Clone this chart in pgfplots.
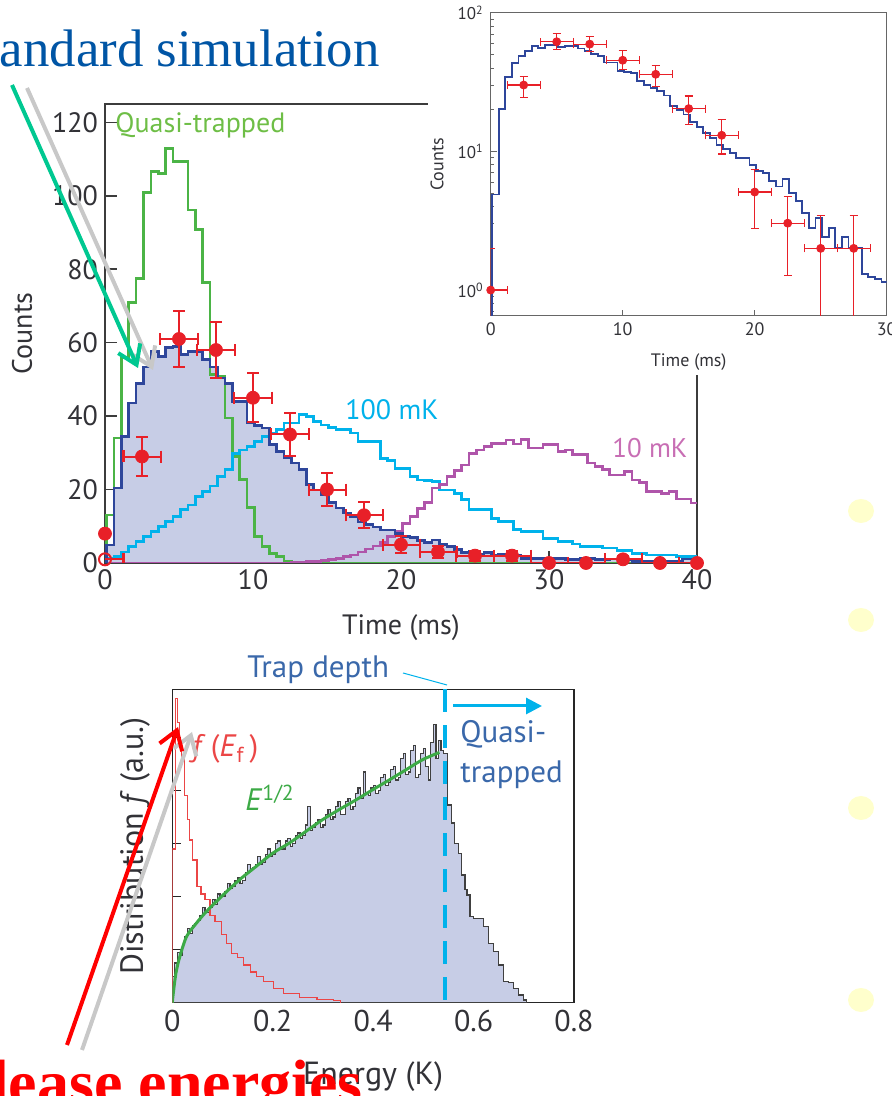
\documentclass[border=0pt]{standalone}
\usepackage{fontspec}
\setmainfont{PT Sans}
\newfontfamily\serifF{Liberation Serif}
\usepackage{pgfplots}
\usepackage{pgfplotstable}
\pgfplotsset{compat=1.18}
\usetikzlibrary{arrows.meta}
\definecolor{fillb}{RGB}{199,205,230}
\definecolor{blueL}{RGB}{46,70,155}
\definecolor{greenL}{RGB}{75,180,70}
\definecolor{greenT}{RGB}{110,190,70}
\definecolor{cyanL}{RGB}{0,178,235}
\definecolor{magL}{RGB}{175,85,170}
\definecolor{magT}{RGB}{200,110,180}
\definecolor{redD}{RGB}{232,32,40}
\definecolor{axisG}{RGB}{60,60,60}
\definecolor{txtG}{RGB}{50,50,55}
\definecolor{simblue}{RGB}{0,85,165}
\definecolor{tealA}{RGB}{0,200,145}
\definecolor{shadowG}{RGB}{200,200,200}
\definecolor{trapblue}{RGB}{58,104,170}
\definecolor{yel}{RGB}{255,255,204}
\definecolor{redF}{RGB}{235,70,70}
\definecolor{greenE}{RGB}{60,170,70}
\pgfplotsset{/pgf/number format/assume math mode=true}

\pgfplotstableread{
x y
0 0
0.1 4.9
0.6 20.4
1.1 34.4
1.6 43.6
2.1 48.8
2.6 53.4
3.1 57.5
3.6 56.2
4.1 58.6
4.6 59.0
5.1 56.7
5.6 57.5
6.1 57.5
6.6 55.4
7.1 53.4
7.6 50.4
8.1 48.8
8.6 43.9
9.1 43.9
9.6 38.2
10.1 37.4
10.6 36.8
11.1 32.2
11.6 30.3
12.1 28.6
12.6 27.2
13.1 25.4
13.6 21.3
14.1 19.9
14.6 18.5
15.1 16.4
15.6 15.0
16.1 13.6
16.6 12.6
17.1 11.2
17.6 10.4
18.1 9.8
18.6 9.0
19.1 9.0
19.6 8.0
20.1 7.2
20.6 7.0
21.1 6.1
21.6 5.6
22.1 6.3
22.6 5.0
23.1 4.4
23.6 3.6
24.1 2.8
24.6 3.3
25.1 2.4
25.6 2.8
26.1 2.0
26.6 2.4
27.1 2.0
27.6 2.0
28.1 1.3
28.6 1.25
29.1 1.2
29.6 1.15
30.1 1.2
31.1 1.0
32.1 1.2
33.1 1.0
34.1 1.1
35.1 0.8
35.6 0.4
39.0 1.1
40 1.1
}\blueMain

\pgfplotstableread{
x y
0.1 0.3
0.1 4.9
0.6 20.4
1.1 34.4
1.6 43.6
2.1 48.8
2.6 53.4
3.1 57.5
3.6 56.2
4.1 58.6
4.6 59.0
5.1 56.7
5.6 57.5
6.1 57.5
6.6 55.4
7.1 53.4
7.6 50.4
8.1 48.8
8.6 43.9
9.1 43.9
9.6 38.2
10.1 37.4
10.6 36.8
11.1 32.2
11.6 30.3
12.1 28.6
12.6 27.2
13.1 25.4
13.6 21.3
14.1 19.9
14.6 18.5
15.1 16.4
15.6 15.0
16.1 13.6
16.6 12.6
17.1 11.2
17.6 10.4
18.1 9.8
18.6 9.0
19.1 9.0
19.6 8.0
20.1 7.2
20.6 7.0
21.1 6.1
21.6 5.6
22.1 6.3
22.6 5.0
23.1 4.4
23.6 3.6
24.1 2.8
24.6 3.3
25.1 2.4
25.6 2.8
26.1 2.0
26.6 2.4
27.1 2.0
27.6 2.0
28.1 1.3
28.6 1.25
29.1 1.2
29.6 1.15
30 1.15
}\blueInset

\pgfplotstableread{
x y
0 0
0.1 13.1
0.6 34
1.1 55.8
1.6 71
2.1 77.4
2.6 100.8
3.1 106.7
3.6 106.1
4.1 112.9
4.6 109.3
5.6 96.1
6.1 90.8
6.6 76.3
7.1 51.3
7.6 50.8
8.1 39.5
8.6 29
9.1 22.7
9.6 15.1
10.1 7.3
10.6 4.5
11.1 2.6
11.6 1.7
12.1 0.4
12.6 0
40 0
}\greenQ

\pgfplotstableread{
x y
0 0
0.1 1.3
0.6 1.7
1.1 3.0
1.6 4.4
2.1 5.8
2.6 7.2
3.1 8.5
3.6 9.9
4.1 11.3
4.6 12.6
5.1 14.5
5.6 15.8
6.1 18.1
6.6 19.5
7.1 21.0
7.6 23.5
8.1 25.4
8.6 29.9
9.1 30.8
9.6 31.7
10.1 33.1
10.6 34.4
11.1 35.4
11.6 36.3
12.1 38.1
13.1 40.4
13.6 39.9
14.1 38.5
14.6 37.6
15.1 36.9
15.6 36.3
16.6 35.4
17.1 33.1
18.6 28.5
19.1 28.0
19.6 25.8
20.6 23.5
21.1 22.6
21.6 22.4
22.1 22.2
22.6 19.9
23.6 19.0
24.1 17.2
24.6 14.5
26.1 12.2
26.6 11.3
27.6 9.2
28.1 8.5
29.6 6.7
30.6 5.8
31.6 5.2
32.1 4.5
33.6 4.1
34.6 3.4
35.6 2.6
36.6 2.2
38.6 1.7
40 1.7
}\cyanH

\pgfplotstableread{
x y
0 0
12.6 0.2
13.1 0.3
13.6 0.4
14.6 0.6
15.1 0.9
15.6 1.3
16.1 1.7
16.6 2.2
17.1 3.0
17.6 3.8
18.1 4.6
18.6 5.6
19.1 7.2
19.6 8.5
20.1 10.8
20.6 12.6
21.1 14.9
21.6 16.5
22.1 20.4
22.6 21.3
23.1 23.5
23.6 25.2
24.1 26.7
24.6 29.9
25.1 30.8
25.6 31.7
26.1 32.6
27.1 33.5
27.6 32.4
28.1 33.7
28.6 31.3
29.6 32.2
30.6 30.4
31.1 30.8
31.6 29.5
32.6 27.2
33.1 26.3
33.6 25.4
34.1 24.0
35.1 24.9
35.6 22.6
36.1 22.0
36.6 19.5
37.6 19.0
38.1 19.5
38.6 17.4
39.6 16.3
40 16.3
}\magH

\pgfplotstableread{
x y
0 0
0 0.5
0.005 0.75
0.01 0.95
0.015 0.90
0.02 1.10
0.025 1.25
0.03 1.40
0.035 1.30
0.04 1.45
0.045 1.50
0.05 1.55
0.055 1.65
0.06 1.80
0.065 1.70
0.07 1.70
0.075 1.80
0.08 1.95
0.085 1.85
0.09 2.05
0.095 2.00
0.10 2.00
0.105 2.10
0.11 2.25
0.115 2.15
0.12 2.20
0.125 2.30
0.13 2.35
0.135 2.25
0.14 2.30
0.145 2.45
0.15 2.60
0.155 2.50
0.16 2.55
0.165 2.60
0.17 2.75
0.175 2.60
0.18 2.65
0.185 2.80
0.19 2.90
0.195 2.75
0.20 2.80
0.205 3.00
0.21 3.05
0.215 2.90
0.22 2.90
0.225 3.05
0.23 3.10
0.235 2.95
0.24 3.00
0.245 3.15
0.25 3.20
0.255 3.10
0.26 3.15
0.265 3.35
0.27 3.70
0.275 3.25
0.28 3.30
0.285 3.40
0.29 3.45
0.295 3.30
0.30 3.35
0.305 3.55
0.31 3.65
0.315 3.45
0.32 3.50
0.325 3.70
0.33 3.80
0.335 3.55
0.34 3.55
0.345 3.80
0.35 3.85
0.355 3.65
0.36 3.70
0.365 3.95
0.37 4.05
0.375 3.85
0.38 4.35
0.385 3.95
0.39 3.90
0.395 4.05
0.40 4.10
0.405 3.95
0.41 4.00
0.415 4.25
0.42 4.30
0.425 4.10
0.43 4.15
0.435 4.40
0.44 4.45
0.445 4.20
0.45 4.25
0.455 4.60
0.46 4.70
0.465 4.30
0.47 4.35
0.475 4.75
0.48 4.85
0.485 4.25
0.49 4.30
0.495 4.70
0.50 4.80
0.505 4.45
0.51 4.20
0.515 4.90
0.52 5.25
0.525 4.60
0.53 4.95
0.535 4.75
0.54 4.70
0.548 3.73
0.556 3.39
0.562 3.00
0.570 2.82
0.576 2.41
0.583 2.13
0.587 2.03
0.593 1.62
0.600 1.59
0.620 1.43
0.630 1.12
0.639 0.96
0.649 0.71
0.659 0.40
0.669 0.38
0.679 0.27
0.689 0.145
0.699 0.05
0.706 0
}\energyH

\pgfplotstableread{
x y
0 0
0 2.9
0.006 5.74
0.011 5.28
0.014 4.9
0.019 4.6
0.025 3.9
0.030 3.45
0.035 3.07
0.041 2.69
0.049 2.19
0.057 2.05
0.065 1.94
0.075 1.65
0.085 1.53
0.098 1.28
0.108 1.12
0.118 0.93
0.130 0.85
0.141 0.71
0.155 0.58
0.168 0.50
0.181 0.40
0.201 0.27
0.221 0.18
0.254 0.10
0.288 0.06
0.321 0.04
0.335 0
}\fEf

\pgfplotstableread{
x y
0 0
0.002 0.18
0.0073 0.56
0.015 0.87
0.0285 1.25
0.048 1.50
0.068 1.72
0.101 2.03
0.134 2.32
0.167 2.57
0.2 2.82
0.233 3.01
0.266 3.23
0.299 3.45
0.332 3.64
0.365 3.82
0.398 4.01
0.432 4.20
0.465 4.39
0.498 4.58
0.532 4.72
}\sqrtE

\begin{document}
\begin{tikzpicture}
\useasboundingbox (0,0) rectangle (446pt,548pt);
\clip (0,0) rectangle (446pt,548pt);

% ---------------- main axis
\begin{axis}[
  at={(52.5pt,266.5pt)}, anchor=south west, scale only axis,
  width=296pt, height=229.5pt,
  xmin=0, xmax=40, ymin=0, ymax=125,
  xtick={0,10,20,30,40}, ytick={0,20,40,60,80,100,120},
  xtick pos=bottom, ytick pos=left, tick align=inside,
  major tick length=6pt,
  axis line style={axisG, line width=0.75pt},
  every tick/.style={axisG, line width=0.75pt},
  tick label style={font=\fontsize{14}{16}\selectfont, text=txtG},
  xlabel={Time (ms)}, ylabel={Counts},
  label style={font=\fontsize{14}{16}\selectfont, text=txtG},
  x label style={at={(axis description cs:0.5,-0.1416)}, anchor=center},
  y label style={at={(axis description cs:-0.1402,0.5)}, anchor=center},
]
\addplot[const plot, fill=fillb, draw=none] table {\blueMain} \closedcycle;
\addplot[const plot, greenL, line width=1.35pt] table {\greenQ};
\addplot[const plot, cyanL, line width=1.35pt] table {\cyanH};
\addplot[const plot, magL, line width=1.35pt] table {\magH};
\addplot[const plot, blueL, line width=1.35pt] table {\blueMain};
\addplot[only marks, mark=*, mark size=3.25pt, color=redD] coordinates {(0,8)};
\addplot[only marks, mark=o, mark size=3pt, color=redD, line width=1pt,
  error bars/.cd, x dir=plus, x explicit,
  error bar style={line width=1pt, redD},
  error mark options={rotate=90, mark size=3pt, line width=1pt, redD}]
  coordinates {(0,1) +- (1.25,0)};
\addplot[only marks, mark=*, mark size=3.25pt, color=redD,
  error bars/.cd, x dir=both, x explicit, y dir=both, y explicit,
  error bar style={line width=1pt, redD},
  error mark options={rotate=90, mark size=3pt, line width=1pt, redD}]
  coordinates {
  (2.5,29) +- (1.25,5.4)
  (5,61) +- (1.25,7.7)
  (7.5,58) +- (1.25,7.6)
  (10,45) +- (1.25,6.7)
  (12.5,35) +- (1.25,5.8)
  (15,20) +- (1.25,4.4)
  (17.5,13) +- (1.25,3.6)
  (20,5) +- (1.25,2.3)
  (22.5,3) +- (1.25,1.7)
  (25,2) +- (1.25,1.4)
  (27.5,2) +- (1.25,1.4)
  (30,0) +- (1.25,0)
  (32.5,0) +- (1.25,0)
  (35,1) +- (1.25,1)
  (37.5,0) +- (1.25,0)
  (40,0) +- (1.25,0)
  };
\end{axis}

% white cover behind inset
\fill[white] (214pt,360.5pt) rectangle (446pt,548pt);

% ---------------- inset
\begin{axis}[
  at={(245.35pt,390pt)}, anchor=south west, scale only axis,
  width=198pt, height=151.5pt,
  ymode=log, xmin=0, xmax=30, ymin=0.65, ymax=100,
  xtick={0,10,20,30}, ytick={1,10,100},
  yticklabels={10\textsuperscript{0},10\textsuperscript{1},10\textsuperscript{2}},
  minor ytick={0.7,0.8,0.9,2,3,4,5,6,7,8,9,20,30,40,50,60,70,80,90},
  xtick pos=bottom, ytick pos=left, tick align=inside,
  major tick length=3pt, minor tick length=1.8pt,
  axis line style={gray!80!black, line width=0.5pt},
  every tick/.style={gray!80!black, line width=0.5pt},
  xticklabel style={font=\fontsize{9}{10}\selectfont, text=txtG},
  yticklabel style={font=\fontsize{8.5}{10}\selectfont, text=txtG},
  xlabel={Time (ms)}, ylabel={Counts},
  label style={font=\fontsize{9}{10}\selectfont, text=txtG},
  x label style={at={(axis description cs:0.5,-0.1518)}, anchor=center},
  y label style={at={(axis description cs:-0.1356,0.5)}, anchor=center},
]
\addplot[const plot, blueL, line width=0.9pt] table {\blueInset};
\addplot[only marks, mark=*, mark size=2pt, color=redD,
  error bars/.cd, x dir=both, x explicit, y dir=both, y explicit,
  error bar style={line width=0.6pt, redD},
  error mark options={rotate=90, mark size=2pt, line width=0.6pt, redD}]
  coordinates {
  (0,1) += (1.25,1) -= (0,0.99)
  (2.5,30.2) += (1.25,4.8) -= (1.25,5.5)
  (5,62) += (1.25,9.3) -= (1.25,7.2)
  (7.5,59.6) += (1.25,7.9) -= (1.25,7.2)
  (10,45.6) += (1.25,7.8) -= (1.25,6.6)
  (12.5,36.1) += (1.25,5.9) -= (1.25,6.5)
  (15,20.4) += (1.25,4.8) -= (1.25,4.7)
  (17.5,13.1) += (1.25,4.0) -= (1.25,3.5)
  (20,5.1) += (1.25,2.3) -= (1.25,2.3)
  (22.5,3.04) += (1.25,1.7) -= (1.25,1.76)
  (25,2) += (1.25,1.45) -= (1.25,1.99)
  (27.5,2) += (1.25,1.45) -= (1.25,1.99)
  };
\end{axis}

% ---------------- energy distribution
\begin{axis}[
  at={(86.15pt,46.65pt)}, anchor=south west, scale only axis,
  width=200.85pt, height=156.7pt,
  xmin=0, xmax=0.8, ymin=0, ymax=5.91,
  xtick={0,0.2,0.4,0.6,0.8}, xticklabels={0,0.2,0.4,0.6,0.8},
  ytick={1,2,3,4,5}, yticklabels={},
  xtick pos=bottom, ytick pos=left, tick align=inside,
  major tick length=4.5pt,
  axis line style={black!85, line width=0.7pt},
  every tick/.style={black!85, line width=0.7pt},
  tick label style={font=\fontsize{15}{16}\selectfont, text=txtG},
  xlabel={Energy (K)}, ylabel={Distribution \textit{f} (a.u.)},
  label style={font=\fontsize{16}{18}\selectfont, text=txtG},
  x label style={at={(axis description cs:0.5,-0.237)}, anchor=center},
  y label style={at={(axis description cs:-0.0929,0.5)}, anchor=center},
]
\addplot[const plot, fill=fillb, draw=black!75, line width=0.6pt] table {\energyH} \closedcycle;
\addplot[const plot, redF, line width=0.6pt] table {\fEf};
\addplot[smooth, greenE, line width=1.5pt] table {\sqrtE};
\addplot[cyanL, line width=2pt, dash pattern=on 11.5pt off 6.5pt] coordinates {(0.543,5.91) (0.543,0)};
\end{axis}

% ---------------- annotations (px coordinates, y flipped)
\begin{scope}[x=0.5pt, y=0.5pt]
\node[anchor=base west, text=greenT, font=\fontsize{14}{16}\selectfont, inner sep=0] at (115,963) {Quasi-trapped};
\node[anchor=base west, text=cyanL, font=\fontsize{14}{16}\selectfont, inner sep=0] at (345,676) {100 mK};
\node[anchor=base west, text=magT, font=\fontsize{13.5}{16}\selectfont, inner sep=0] at (612,638) {10 mK};
\node[anchor=base west, text=trapblue, font=\fontsize{15.5}{18}\selectfont, inner sep=0] at (247,418) {Trap depth};
\draw[cyanL, line width=0.5pt] (403,423) -- (447,411);
\draw[cyanL, line width=1.5pt, -{Triangle[length=8pt,width=8pt]}] (453,390) -- (542,390);
\node[anchor=base west, text=trapblue, font=\fontsize{15.5}{18}\selectfont, inner sep=0] at (460,353) {Quasi-};
\node[anchor=base west, text=trapblue, font=\fontsize{15.5}{18}\selectfont, inner sep=0] at (460,313) {trapped};
\node[anchor=base west, text=redF, font=\fontsize{15.5}{18}\selectfont, inner sep=0] at (192,339) {\textit{f}\,(\textit{E}\textsubscript{f}\,)};
\node[anchor=base west, text=greenE, font=\fontsize{15.5}{18}\selectfont, inner sep=0] at (245,285) {\textit{E}\textsuperscript{1/2}};

% arrows
\draw[shadowG, line width=2pt, -{Straight Barb[length=9pt,width=12pt]}] (27,1008) -- (153,726);
\draw[tealA, line width=2pt, -{Straight Barb[length=9pt,width=12pt]}] (12,1011) -- (138,728);
\draw[shadowG, line width=2pt, -{Straight Barb[length=9pt,width=12pt]}] (82,46) -- (192,364);
\draw[red, line width=2pt, -{Straight Barb[length=9pt,width=12pt]}] (67,51) -- (178,369);

\node[anchor=base east, text=simblue, font=\serifF\fontsize{26.4}{30}\selectfont, inner sep=0] at (380,1029) {Standard simulation};
\node[anchor=base east, text=red, font=\serifF\bfseries\fontsize{32}{34}\selectfont, inner sep=0] at (363,-9) {Release energies};

\foreach \yy in {585,476,288,96} {
  \fill[yel] (861,\yy) ellipse [x radius=13, y radius=12];
}
\end{scope}
\end{tikzpicture}
\end{document}
